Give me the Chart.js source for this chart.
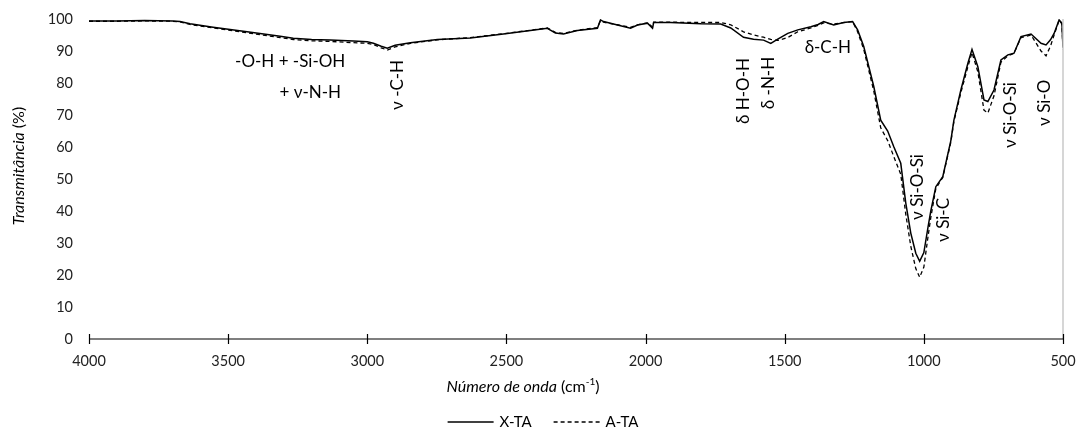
<!DOCTYPE html>
<html lang="pt">
<head>
<meta charset="UTF-8">
<title>Espectro FTIR X-TA / A-TA</title>
<script src="https://cdn.jsdelivr.net/npm/chart.js"></script>
<style>
    body { margin: 0; background: #fff; }
    .wrap { width: 1078px; height: 430px; }
</style>
</head>
<body>
<div class="wrap"><canvas id="ftir" width="1078" height="430"></canvas></div>
<script>
// wavenumbers (cm-1) shared by both series
const waveNumbers = [4000, 3900, 3800, 3700, 3673, 3637, 3554, 3432, 3313, 3266, 3200, 3133, 3050, 3000, 2978, 2950, 2928, 2900, 2845, 2748,
    2630, 2511, 2414, 2353, 2324, 2295, 2245, 2173, 2162, 2151, 2101, 2054, 2029, 1993, 1975, 1971, 1910, 1800, 1730, 1694,
    1648, 1612, 1576, 1550, 1525, 1489, 1453, 1406, 1380, 1360, 1324, 1288, 1256, 1238, 1216, 1180, 1155, 1130, 1108, 1083,
    1065, 1047, 1029, 1015, 1000, 985, 975, 957, 932, 903, 892, 867, 842, 827, 806, 784, 770, 748, 723, 698,
    676, 651, 615, 579, 561, 545, 532, 514, 504, 500];

const xTA = [99.4, 99.4, 99.5, 99.4, 99.2, 98.5, 97.4, 96.0, 94.6, 94.0, 93.6, 93.4, 93.1, 92.9, 92.4, 91.5, 90.9, 91.8, 92.6, 93.6,
    94.1, 95.3, 96.4, 97.1, 95.6, 95.3, 96.4, 97.1, 99.7, 99.2, 98.1, 97.1, 98.1, 98.7, 97.1, 98.9, 98.9, 98.5, 98.4, 97.2,
    94.3, 93.7, 93.4, 92.4, 93.7, 95.5, 96.6, 97.6, 98.3, 99.2, 98.1, 98.9, 99.2, 96.6, 91.4, 78.9, 68.4, 65.0, 60.1, 54.9,
    42.5, 33.1, 26.8, 24.3, 27.0, 35.0, 40.0, 47.6, 50.7, 62.0, 68.4, 77.8, 86.1, 90.5, 85.1, 74.7, 74.2, 77.8, 87.2, 88.8,
    89.3, 94.5, 95.3, 92.4, 91.9, 93.5, 95.5, 99.7, 98.7, 91.0];

const aTA = [99.3, 99.3, 99.4, 99.3, 99.1, 98.3, 97.2, 95.7, 94.2, 93.6, 93.2, 93.0, 92.6, 92.4, 92.0, 91.0, 90.3, 91.3, 92.4, 93.5,
    94.2, 95.4, 96.5, 97.2, 95.8, 95.5, 96.5, 97.3, 99.5, 99.0, 98.2, 97.4, 98.2, 98.8, 97.5, 99.0, 99.0, 98.9, 98.9, 98.2,
    96.0, 95.0, 94.3, 93.6, 93.3, 94.2, 96.0, 97.2, 98.0, 98.8, 98.4, 98.9, 99.2, 96.0, 90.5, 77.5, 66.0, 62.0, 57.0, 51.5,
    39.0, 29.0, 22.0, 19.3, 22.5, 32.0, 38.0, 47.0, 50.5, 61.5, 68.0, 77.0, 85.0, 89.5, 83.5, 71.5, 70.6, 76.0, 86.5, 88.5,
    89.3, 94.2, 95.0, 90.0, 88.5, 91.5, 95.0, 99.6, 98.5, 90.5];

const seriesNames = ['X-TA', 'A-TA'];
const xTicks = [4000, 3500, 3000, 2500, 2000, 1500, 1000, 500];

// band labels: text, wavenumber, transmittance, vertical?
const noteTexts = ['-O-H + -Si-OH', '+ \u03bd-N-H', '\u03bd -C-H', '\u03b4 H-O-H', '\u03b4 -N-H', '\u03b4-C-H',
    '\u03bd Si-O-Si', '\u03bd Si-C', '\u03bd Si-O-Si', '\u03bd Si-O'];
const noteWn = [3277, 3205, 2892, 1648, 1558, 1345, 1022, 928, 687, 568];
const noteT = [86.6, 76.9, 79.4, 77.5, 80.0, 91.2, 47.5, 37.2, 70.0, 73.8];
const noteVertical = [false, false, true, true, true, false, true, true, true, true];

const FONT = 'Lato, "Open Sans", sans-serif';

function toPoints(vals) {
    return waveNumbers.map((w, i) => ({x: w, y: vals[i]}));
}

const overlay = {
    id: 'overlay',
    afterDraw(chart) {
        const ctx = chart.ctx;
        const xs = chart.scales.x, ys = chart.scales.y;
        const area = chart.chartArea;
        ctx.save();

        // vertical axis line (crosses at 500)
        const xr = xs.getPixelForValue(500);
        ctx.strokeStyle = '#c8c8c8';
        ctx.lineWidth = 1.5;
        ctx.beginPath();
        ctx.moveTo(xr, ys.getPixelForValue(100));
        ctx.lineTo(xr, ys.getPixelForValue(0));
        ctx.stroke();

        // x axis line with crossing ticks
        const y0 = ys.getPixelForValue(0);
        ctx.strokeStyle = '#000';
        ctx.lineWidth = 1.2;
        ctx.beginPath();
        ctx.moveTo(area.left, y0);
        ctx.lineTo(area.right, y0);
        xTicks.forEach(t => {
            const px = Math.round(xs.getPixelForValue(t)) + 0.5;
            ctx.moveTo(px, y0 - 5);
            ctx.lineTo(px, y0 + 5);
        });
        ctx.stroke();

        // band annotations
        ctx.fillStyle = '#000';
        ctx.font = '17px ' + FONT;
        ctx.textAlign = 'center';
        ctx.textBaseline = 'middle';
        noteTexts.forEach((txt, i) => {
            const px = xs.getPixelForValue(noteWn[i]);
            const py = ys.getPixelForValue(noteT[i]);
            ctx.save();
            ctx.translate(px, py);
            if (noteVertical[i]) ctx.rotate(-Math.PI / 2);
            ctx.fillText(txt, 0, 0);
            ctx.restore();
        });

        // y title
        ctx.save();
        ctx.translate(19, 166);
        ctx.rotate(-Math.PI / 2);
        ctx.font = 'italic 16px ' + FONT;
        const yA = 'Transmit\u00e2ncia';
        const wA = ctx.measureText(yA).width;
        ctx.font = '16px ' + FONT;
        const yB = ' (%)';
        const wB = ctx.measureText(yB).width;
        let sx = -(wA + wB) / 2;
        ctx.textAlign = 'left';
        ctx.font = 'italic 16px ' + FONT;
        ctx.fillText(yA, sx, 0);
        ctx.font = '16px ' + FONT;
        ctx.fillText(yB, sx + wA, 0);
        ctx.restore();

        // x title
        const tA = 'N\u00famero de onda', tB = ' (cm', tSup = '-1', tC = ')';
        ctx.font = 'italic 16px ' + FONT;
        const a = ctx.measureText(tA).width;
        ctx.font = '16px ' + FONT;
        const b = ctx.measureText(tB).width, c = ctx.measureText(tC).width;
        ctx.font = '10px ' + FONT;
        const s = ctx.measureText(tSup).width;
        let tx = 523 - (a + b + s + c) / 2;
        const ty = 387;
        ctx.textAlign = 'left';
        ctx.font = 'italic 16px ' + FONT;
        ctx.fillText(tA, tx, ty); tx += a;
        ctx.font = '16px ' + FONT;
        ctx.fillText(tB, tx, ty); tx += b;
        ctx.font = '10px ' + FONT;
        ctx.fillText(tSup, tx, ty - 5); tx += s;
        ctx.font = '16px ' + FONT;
        ctx.fillText(tC, tx, ty);

        // legend
        ctx.font = '15px ' + FONT;
        const lineLen = 46, gap = 6, itemGap = 22;
        const widths = seriesNames.map(n => lineLen + gap + ctx.measureText(n).width);
        const total = widths[0] + widths[1] + itemGap;
        let lx = 543 - total / 2;
        const ly = 422;
        chart.data.datasets.forEach((ds, i) => {
            ctx.strokeStyle = ds.borderColor;
            ctx.lineWidth = ds.borderWidth;
            ctx.setLineDash(ds.borderDash || []);
            ctx.beginPath();
            ctx.moveTo(lx, ly);
            ctx.lineTo(lx + lineLen, ly);
            ctx.stroke();
            ctx.setLineDash([]);
            ctx.fillStyle = '#000';
            ctx.fillText(seriesNames[i], lx + lineLen + gap, ly);
            lx += widths[i] + itemGap;
        });

        ctx.restore();
    }
};

new Chart(document.getElementById('ftir'), {
    type: 'line',
    data: {
        datasets: [{
            label: seriesNames[0],
            data: toPoints(xTA),
            borderColor: '#000',
            borderWidth: 1.5,
            pointRadius: 0,
            tension: 0
        }, {
            label: seriesNames[1],
            data: toPoints(aTA),
            borderColor: '#000',
            borderWidth: 1.3,
            borderDash: [4, 3],
            pointRadius: 0,
            tension: 0
        }]
    },
    options: {
        responsive: false,
        animation: false,
        layout: { padding: { top: 19, right: 15, left: 0, bottom: 0 } },
        plugins: {
            legend: { display: false },
            tooltip: { enabled: false }
        },
        scales: {
            x: {
                type: 'linear',
                reverse: true,
                min: 500,
                max: 4000,
                grid: { display: false, drawTicks: false },
                border: { display: false },
                afterBuildTicks: s => { s.ticks = xTicks.map(v => ({value: v})); },
                afterFit: s => { s.height = 91; s.paddingLeft = 0; s.paddingRight = 0; },
                ticks: {
                    padding: 14,
                    maxRotation: 0,
                    color: '#222',
                    font: { family: FONT, size: 14.5 },
                    callback: v => String(v)
                }
            },
            y: {
                min: 0,
                max: 100,
                grid: { display: false, drawTicks: false },
                border: { display: false },
                afterFit: s => { s.width = 89; s.paddingTop = 0; s.paddingBottom = 0; },
                ticks: {
                    stepSize: 10,
                    padding: 16,
                    color: '#222',
                    font: { family: FONT, size: 14.5 }
                }
            }
        }
    },
    plugins: [overlay]
});
</script>
</body>
</html>
